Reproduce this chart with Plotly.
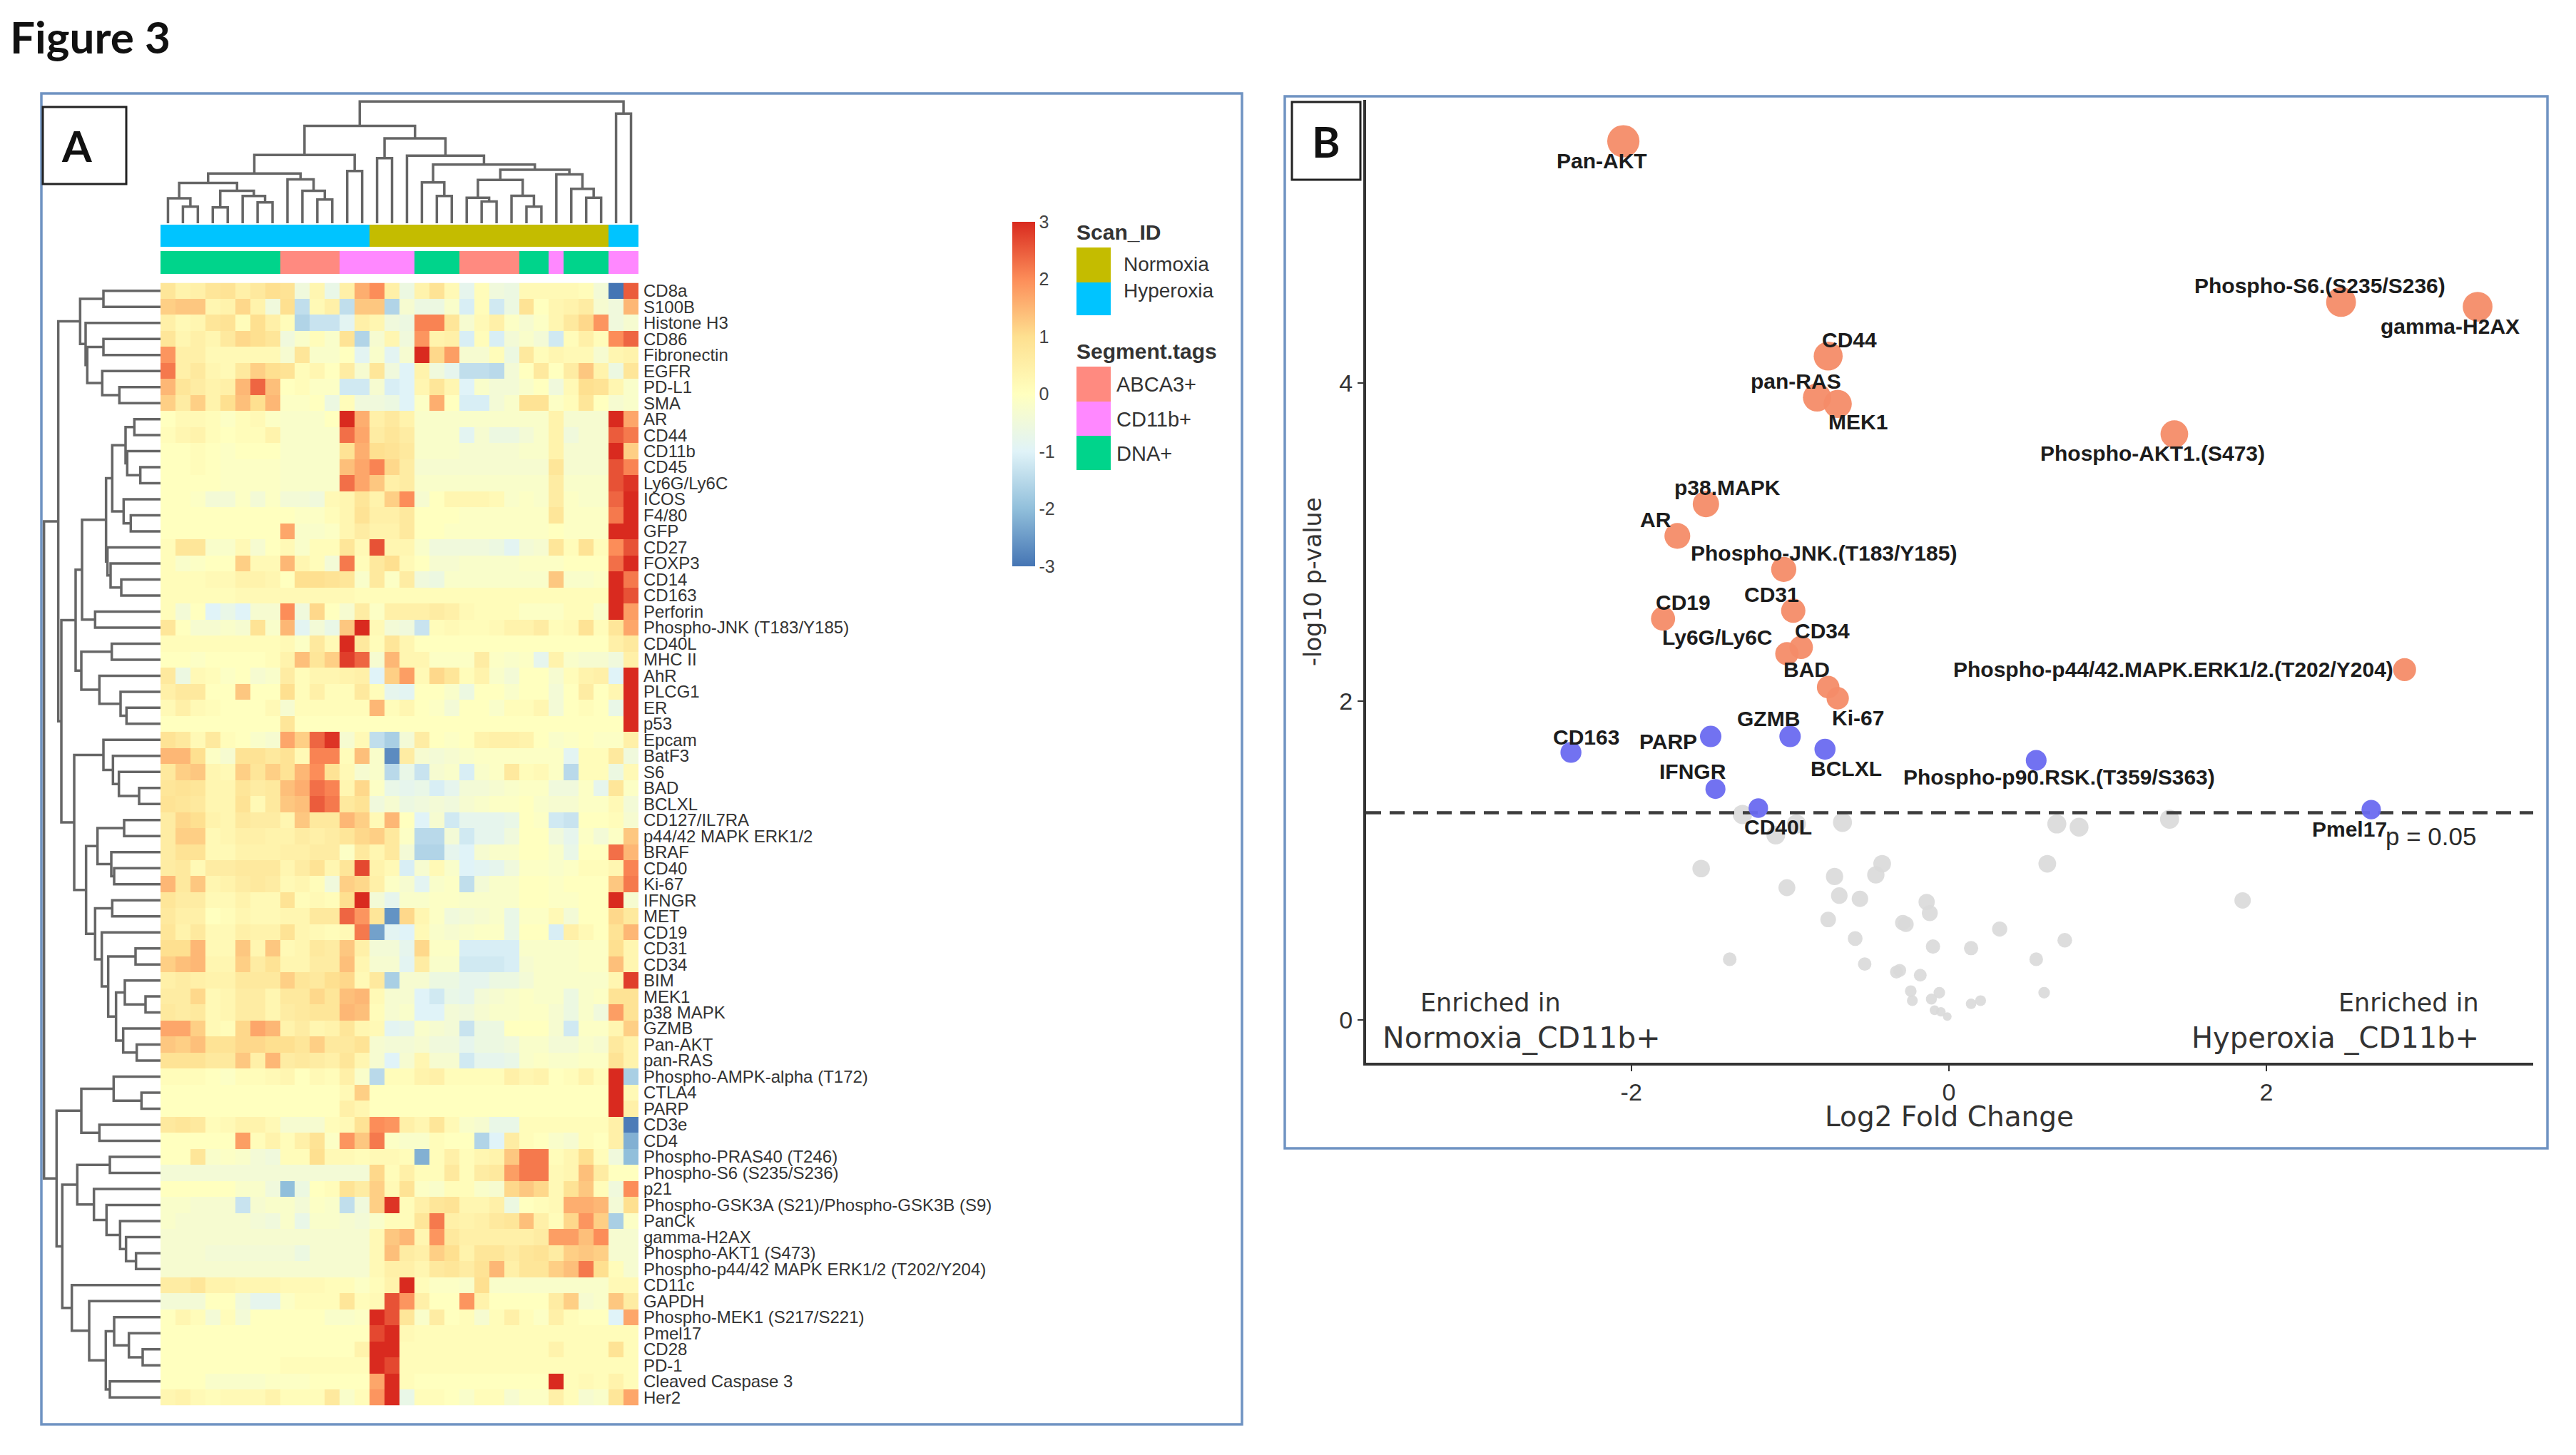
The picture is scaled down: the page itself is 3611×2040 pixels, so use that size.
import math
import plotly.graph_objects as go

W, H = 3611, 2040
FIG_TITLE = "Figure 3"
ROWS = ["CD8a","S100B","Histone H3","CD86","Fibronectin","EGFR","PD-L1","SMA","AR","CD44","CD11b","CD45","Ly6G/Ly6C","ICOS","F4/80","GFP","CD27","FOXP3","CD14","CD163","Perforin","Phospho-JNK (T183/Y185)","CD40L","MHC II","AhR","PLCG1","ER","p53","Epcam","BatF3","S6","BAD","BCLXL","CD127/IL7RA","p44/42 MAPK ERK1/2","BRAF","CD40","Ki-67","IFNGR","MET","CD19","CD31","CD34","BIM","MEK1","p38 MAPK","GZMB","Pan-AKT","pan-RAS","Phospho-AMPK-alpha (T172)","CTLA4","PARP","CD3e","CD4","Phospho-PRAS40 (T246)","Phospho-S6 (S235/S236)","p21","Phospho-GSK3A (S21)/Phospho-GSK3B (S9)","PanCk","gamma-H2AX","Phospho-AKT1 (S473)","Phospho-p44/42 MAPK ERK1/2 (T202/Y204)","CD11c","GAPDH","Phospho-MEK1 (S217/S221)","Pmel17","CD28","PD-1","Cleaved Caspase 3","Her2"]

Z = [
[.8,.4,.5,.8,.9,.5,.7,1, .9,-.5,.3,-.7,.5,1.6,2,.5, -.6,.4,.9,.2,-.8,.1,-.5,-.6, .2,.2,.2,.2,.1,-.4,-3,2.5],
[1.2,1.3,1.3,.3,.4,1.1,.4,-.5, 1,-1.4,.2,.5,-1.4,1.3,1.3,-1.6, -.3,-.6,-.6,-.2,-1.1,.1,-1.2,-.6, .9,0,.3,.4,.6,-.3,-.5,1.5],
[.5,.2,.3,.8,.9,.1,1,.5, .1,-1.6,-1.3,-1.3,-.9,.5,.3,-.5, -.6,2.1,2.1,.8,-.3,.2,.5,-.1, -.3,-.1,.3,.7,1.1,1.9,-.5,-.3],
[.8,.3,.5,.3,.7,1.1,1,.8, -.5,-.2,.1,-.2,.9,-1.6,-.3,.3, -.5,1.9,.4,.5,-1.1,.1,-1.1,-.4, -.2,-.4,-1.2,.1,.5,.1,2,2.4],
[1.9,.5,.5,.2,.2,.2,.2,.2, -.3,.8,-.2,-.2,0,-.9,-.2,-.9, -.3,3,1.1,1.8,-.3,-.3,.1,-.6, .7,.1,.3,.2,.2,-.3,.3,.4],
[2.2,.5,.7,.3,.2,.7,1.2,1, .9,.1,.3,0,.6,-.3,.8,-.5, -1,.4,-.5,-.8,-1.4,-1.4,-1.5,-.4, 0,.7,0,.6,1.3,.4,-.6,.8],
[1.5,.8,.6,.4,.5,1.5,2.4,1.4, 0,.1,-.1,-.1,-1.2,-1.2,-.3,-1.1, -1,.3,.8,.3,-1,-.2,-.4,-.4, -.2,0,-.5,.2,1,.9,.3,-.2],
[1.2,.6,1.2,.4,1,1.4,1,1.5, -.1,-.1,0,-.6,.1,-.5,-.5,-.6, -1,-.1,1.6,0,-1.1,-1.1,-.4,-.2, .9,.9,-.1,.1,.8,0,-.3,-.2],
[0,.2,.2,.1,-.1,.1,.2,-.1, -.2,-.2,-.2,0,3,1.6,.5,.7, .4,-.2,-.2,-.2,-.2,-.2,-.2,-.2, -.2,-.2,.4,-.3,-.3,-.3,3,1.7],
[.1,.3,.4,.1,0,.1,.1,.4, -.2,-.2,-.2,-.2,2.3,1.7,.6,.8, .6,-.2,-.2,-.2,-.9,-.3,-.6,-.6, -.4,-.2,.4,-.5,-.3,-.3,2.5,2.2],
[0,0,.1,0,-.1,0,0,0, -.2,-.2,-.2,-.2,.9,1.6,1,.9, .7,-.2,-.2,-.2,-.3,-.3,-.3,-.3, -.2,-.2,.4,-.3,-.3,-.3,3,1.2],
[0,0,.1,0,-.1,-.1,-.1,-.1, -.2,-.2,-.2,-.2,1.4,1.7,2.1,1.1, .6,-.3,-.3,-.3,-.3,-.3,-.3,-.3, -.3,-.3,.8,-.3,-.3,-.3,2.6,2.1],
[0,0,0,0,-.1,-.1,-.1,-.1, -.2,-.2,-.2,-.2,2.3,1.7,1.3,.5, .6,-.2,-.2,-.2,-.2,-.2,-.2,-.2, -.2,-.2,.6,-.2,-.2,-.2,2.6,2.9],
[0,0,-.1,-.4,-.4,-.1,-.4,-.1, -.4,-.4,-.5,.2,.3,.8,.4,1.2, 2,-.3,0,.3,.3,.3,.2,-.2, -.1,-.2,.6,-.1,-.2,-.2,2.4,3],
[0,0,0,0,0,0,0,0, 0,-.1,-.1,.1,.3,.9,.5,.5, .7,0,0,0,-.1,-.1,-.1,-.1, -.1,-.1,.8,-.1,-.1,-.1,2.2,3],
[0,0,0,0,0,0,0,0, 1.7,-.2,-.2,-.1,.3,.6,.4,.4, .7,0,0,-.1,-.1,-.1,-.1,-.1, -.1,-.1,0,-.1,-.1,-.1,3,3],
[.1,.8,.8,-.2,-.2,.2,-.3,0, .2,-.2,.1,.1,.8,.2,2.6,.3, .3,-.2,-.5,-.5,-.5,-.5,-.6,-.9, -.4,-.3,.8,.1,.9,.1,2,2.6],
[.1,-.2,-.1,0,0,1.2,.2,.2, 1.5,.3,.1,-.4,2.2,.1,.7,1, .2,0,-.3,-.3,-.2,-.2,-.2,-.2, -.1,-.1,-.1,0,0,0,2.3,3],
[.1,.1,.1,.2,.2,.4,.4,.3, 0,1,1,.9,.8,-.2,.7,-.1, .6,-.5,-.6,-.2,-.2,-.2,-.2,-.2, -.2,-.2,1.3,-.2,-.2,-.1,3,2.2],
[.1,.1,.1,.1,.1,.2,.2,.2, .2,.2,.2,.2,.2,.1,.1,.1, .1,.1,.1,.1,.1,.1,.1,.1, .1,.1,.1,.1,.1,.1,3,2.6],
[.1,-.4,0,-1,-.7,-1,-.3,-.3, 2,-.5,1.1,0,-.3,.6,-.1,.5, .5,.5,.6,.5,.2,.1,.1,.1, -.1,-.1,-.1,.1,.1,-.2,3,1.8],
[.8,0,-.3,-.3,-.2,-.3,.9,-.2, 1.5,-.9,-.4,-.7,1.3,3,.2,-.4, -.5,-1.3,.1,.2,.1,.1,.2,.4, .4,.6,.1,.2,.9,.1,.8,1.7],
[.1,.1,.1,.1,.1,.1,.1,.1, .2,-.1,.7,.2,3,.7,.1,.8, .3,0,0,0,0,0,0,0, 0,0,0,0,0,0,.5,.7],
[0,0,-.1,0,0,0,0,.1, .4,1.4,.8,1.2,2.8,2.4,-.3,1.5, .3,.3,-.1,-.1,-.1,.6,-.1,-.2, -.1,-.8,.4,-.2,-.3,-.3,-.5,.5],
[.7,-.6,.2,.1,-.1,0,-.3,-.2, .6,.1,.3,.3,.4,.5,-1,1.2, 1.8,.2,1.1,.8,.1,.4,-.2,-.4, 0,0,-.3,.1,.4,.5,-1,3],
[.5,.7,.7,0,0,1.3,0,0, 1,.1,.5,.1,.1,.7,.1,-.8, -.9,0,0,-.2,-.6,0,0,-.2, 0,0,-.4,0,.6,0,.3,3],
[.2,.5,.2,.1,0,0,0,.2, -.3,.1,.1,.1,.1,.1,1.5,.1, .3,0,-.1,-.4,0,0,-.2,.1, .1,.3,-.4,0,.1,0,-.7,3],
[0,0,0,0,0,0,0,0, .8,0,0,0,0,0,0,0, 0,0,0,0,0,0,0,0, 0,0,0,0,0,0,0,3],
[.9,.7,.2,.7,.1,0,-.2,-.3, 1.7,1.2,2.4,2.9,-.3,.2,-1.4,-1.7, -.4,.6,0,-.1,0,.4,.5,.5, .4,0,-.2,-.1,0,-.1,-.1,.5],
[1.5,1.5,1,-.1,-.3,.9,.9,.7, .9,.2,2.1,2.1,.1,1.4,-.2,-2.7, .6,-.3,-.4,-.3,-.2,-.1,-.1,-.1, -.1,-.1,-.1,-.9,.1,.1,.7,-.5],
[.7,1.2,1.3,.3,.2,1.2,.8,1.2, .9,1.5,2,.9,.2,-.3,-.2,-1.5, -.7,-1.3,-.3,-.2,-1.1,-.2,-.1,.7, .1,.2,-.1,-1.5,.1,.1,-.6,.2],
[.8,.9,.8,.3,.3,.8,.6,.7, 1.4,1.6,2.3,2.1,.3,1.1,-.1,-.7, -.8,-.7,-1.1,-.8,-.4,-.4,-.3,-.2, -.1,-.1,-.5,-.5,-.1,-.8,.8,-.1],
[.9,.8,.7,.3,.3,.9,.2,.7, 1.3,1.4,2.5,2.2,.7,.9,-.5,-.3, -.6,-.5,-.4,-.5,-.3,-.2,-.1,-.1, 0,-.2,-.3,-.3,-.1,-.1,.2,-.4],
[.6,1.1,1,.4,.3,.7,.6,.6, .3,1.3,.7,.7,1.5,1.2,.2,1.5, 0,-1,-.3,-1.2,-.8,-.8,-.8,-.7, 0,-.1,-1.2,-1.3,0,0,.1,-.3],
[.6,1.2,1.2,.2,.3,.5,.5,.4, .4,.6,.5,.6,.8,1.1,1.2,.7, -.1,-1.5,-1.5,-.4,-1.2,-.8,-.8,-.5, 0,0,-.5,-.8,-.1,-.4,-.1,1.3],
[.6,.9,.9,.2,.2,.4,.4,.4, .5,.5,.6,.6,-.1,.7,.3,.7, -.4,-1.6,-1.6,-.8,-1,-.3,-.2,-.2, 0,0,-.2,-.7,0,0,2.3,1.5],
[.6,.7,.2,.6,.6,.7,.7,.7, .3,.6,.9,.3,.8,2.7,.4,.2, -1.1,-.3,.2,-.2,-1,-.9,-.8,-.5, -.1,-.1,-.2,-.1,.1,.1,.3,2.1],
[1.5,.7,1.3,.3,.4,.6,.7,.6, .2,.3,.1,-.5,1.2,1.1,.5,-.1, -.3,-.9,-.2,-.1,-1.4,-.4,-.2,-.2, 0,0,-.1,0,0,0,1.3,2.2],
[.8,.6,.6,.2,.2,.4,.2,.2, .9,.1,.2,.1,1,3,-.4,-.8, -.2,-.2,-.1,-.1,-.2,-.2,-.2,-.2, 0,0,-.1,-.1,0,0,3,-.3],
[.7,.5,.5,0,.1,.3,.2,.2, .3,.3,.7,.7,2.4,1.9,.8,-2.6, 1.1,.3,-.1,-.5,-.4,-.3,-.2,-.7, -.1,-.1,.2,-.4,0,0,1.1,.7],
[.8,.4,.7,.2,.2,.5,.4,.4, .9,.3,.2,.1,.2,2.2,-2.4,-.9, -1,.2,-.2,-.3,-.2,-.1,-.1,-.7, 0,0,-1.1,.5,.2,0,.9,1.5],
[1,1,1.5,.2,.2,1.3,.3,1.3, .2,.3,.7,.6,1.3,.5,-.4,-.4, -.8,1.1,-.1,-.1,-1.1,-1.1,-1.1,-1.1, -.2,-.2,-.2,-.2,-.1,-.1,1,.3],
[1.2,1.4,1.5,.3,.3,1.2,.6,.9, .3,.3,.6,.6,1.4,.3,-.3,-.3, -.9,.6,-.2,-.2,-1.2,-1.2,-1.2,-1.1, -.3,-.2,-.2,-.2,-.1,-.1,1.4,.3],
[.5,.6,.5,.4,.4,.7,.7,.7, 1.2,.8,.7,1,1.1,.2,.7,-1.7, -.3,-.3,-.6,-.6,-.8,-.8,-.6,-.6, -.4,-.2,-.2,-.2,-.2,-.2,.3,2.8],
[.6,.6,1.1,.2,.3,.6,.6,.3, .7,.7,1.1,.8,1.4,1.5,.2,-.3, -.3,-1,-1.2,-.7,-.8,-.4,-.3,-.2, -.1,-.2,-.2,-.6,-.2,-.1,.9,.9],
[.7,.6,.7,.2,.3,.6,.6,.3, .6,.7,.8,.8,1.5,1.4,.1,-.3, -.2,-1,-1,-.4,-.5,-.3,-.2,-.2, -.1,-.1,-.3,-.6,-.2,-.5,1.8,.9],
[1.7,1.7,1.2,.2,.1,1.1,1.7,1.5, .4,.6,.3,.4,.8,.3,.2,-.9, -.8,-.2,-.3,-.4,-1.3,-.6,-.6,0, 0,0,-.3,-1.2,-.1,-.1,.3,1.2],
[1.3,1.2,1.4,.9,.9,1.1,1.1,1, 1,.8,1.2,.7,.7,.9,-.3,-.4, -.4,-.3,-.5,-.5,-.8,-.6,-.6,-.5, -.2,-.2,-.4,-.4,-.2,-.3,.7,.4],
[.9,.9,.9,.7,.7,1.3,.5,1.5, .6,.7,.6,.5,.8,.3,-.3,-1, -.3,.3,-.3,-.3,-1.2,-.8,-.8,-.7, -.2,-.1,-.2,-.2,-.1,-.1,.9,.4],
[.1,.1,.1,0,-.1,.1,.1,.2, .3,0,.2,.1,.5,-.2,-1.5,.1, .1,.4,.5,.1,.1,.1,.1,.5, .3,.4,0,.1,.4,.1,3,-1.7],
[0,0,0,0,0,0,0,0, 0,0,0,0,.2,1.2,0,0, 0,0,0,0,0,0,0,0, 0,0,0,0,0,0,3,.2],
[0,0,0,0,0,0,0,0, 0,0,0,0,.5,.3,0,0, 0,0,0,0,0,0,0,0, 0,0,0,0,0,0,3,.5],
[.7,.8,.7,.1,.2,.4,.4,.2, -.3,-.3,-.3,.1,.2,.9,2,1.9, .5,.3,.8,.2,-.2,-.3,-.7,-.7, .1,.1,.1,.1,.1,.1,.5,-2.9],
[0,0,0,0,0,1.8,.1,.4, .1,.5,.9,-.1,1.9,1.3,2.2,-.1, -.2,-.2,.1,0,0,-1.6,-1,.6, .1,0,-.2,-.3,.1,0,.5,-2.2],
[0,0,.8,-.2,-.1,-.2,-.4,-.5, .1,.1,1,.2,.2,.1,.2,.2, .1,-2.2,.1,.5,.1,.3,.4,1.3, 2.2,2.2,.1,.3,1,.1,-.5,-2],
[-.4,-.4,-.4,-.4,-.4,-.4,-.4,-.4, -.4,-.4,-.4,-.4,-.4,-.4,1.1,.1, .5,.1,.1,.7,.1,.6,.7,1.8, 2.2,2.2,.2,.3,1.4,.6,0,0],
[0,0,0,0,0,-.2,-.2,-.5, -2,-.6,0,.1,.9,.6,1.2,.2, .9,-.1,-.2,.1,.1,-.2,-.3,1.1, 1.3,1.1,.2,.9,1.3,.1,-.5,2],
[-.2,-.2,-.3,-.3,-.3,-1.3,-.3,-.2, -.2,-.4,-.1,-.2,-1.4,-.5,1.2,2.9, .1,.5,.8,.9,.3,.3,.5,-.6, 0,.1,.2,1.6,1.6,1.5,-.4,1],
[-.2,-.3,-.3,-.3,-.3,-.3,-.4,-.5, -.2,-.7,-.2,-.2,-.3,-.4,-.2,.1, .1,.8,2.2,.5,.4,.5,.7,.8, 1.4,.5,.1,1.1,1.9,1.2,-1.7,-.1],
[-.3,-.3,-.3,-.3,-.3,-.3,-.3,-.3, -.3,-.3,-.3,-.3,-.3,-.3,.2,1.3, 1.5,.3,1.9,.7,.5,.5,.5,.5, .5,.6,1.8,1.8,1.4,2,-.3,-.3],
[-.3,-.3,-.3,-.4,-.4,-.4,-.4,-.4, -.4,-.6,-.3,-.3,-.3,-.3,.2,1.4, .6,.5,1.2,1,.4,.8,.8,.6, .8,.9,.6,1.2,1.3,1.2,-.3,-.3],
[-.3,-.3,-.3,-.3,-.3,-.3,-.3,-.3, -.3,-.3,-.3,-.3,-.3,-.3,.2,.5, .5,.3,.7,.8,.6,.9,1.5,.5, .8,.8,1.2,1.4,2.2,1,.1,-.3],
[.6,.6,.8,.4,.4,.3,.3,.3, .2,.2,.2,.1,.1,-.1,.1,.4, 3,.1,-.1,-.1,-.2,1,-.2,-.2, -.2,-.2,-.2,-.2,-.2,-.2,.2,.2],
[-.4,-.4,-.4,0,0,-.5,-.8,-.8, -.1,.1,.1,.1,.8,.1,.2,2.6, 1.9,.5,0,0,1.9,.4,0,0, 0,0,.6,1.2,-.3,-.2,1.3,.6],
[0,.3,.1,-.4,.1,-.4,0,0, 0,0,0,-.2,-.2,-.1,3,2.6, .8,-.2,.6,0,.1,-.3,.1,.5, .1,-.1,.5,.1,0,0,-1,1.7],
[0,0,0,0,0,0,0,0, 0,0,0,0,0,0,2.7,3, .2,.1,.1,.1,.1,.1,.1,.1, .1,.1,.1,.1,.1,.1,.1,.1],
[0,0,0,0,0,0,0,0, 0,0,0,0,0,.4,3,3, .1,.1,.1,.1,.1,.1,.1,.1, .1,.1,.4,.1,.1,.1,.9,.1],
[0,0,0,0,0,0,0,0, .1,.1,.1,.1,.1,.1,3,2.7, .1,.1,.1,.1,.1,.1,.1,.1, .1,.1,.1,.1,.1,.1,.1,.1],
[0,0,0,-.2,-.2,-.2,-.2,-.1, -.1,-.1,0,0,0,0,1.7,3, .1,0,0,0,0,0,0,0, 0,0,3,.1,.2,.1,.4,.1],
[.3,.4,.2,.1,.2,.2,.2,.4, .1,.1,.1,.7,-.2,.1,1.9,3, -.7,.1,.1,0,-.2,.1,.1,-.3, -.1,-.1,.5,.1,-.3,-.2,.8,1.7],
]
bad = [i for i, r in enumerate(Z) if len(r) != 32]
assert not bad and len(Z) == len(ROWS), (bad, len(Z), len(ROWS))

SCAN = [1]*14 + [0]*16 + [1]*2
SEGMENT = [2]*8 + [0]*4 + [1]*5 + [2]*3 + [0]*4 + [2]*2 + [1]*1 + [2]*3 + [1]*2
SCAN_NAMES = ["Normoxia", "Hyperoxia"]
SCAN_COLORS = ["#c4bc00", "#00c4ff"]
SEG_NAMES = ["ABCA3+", "CD11b+", "DNA+"]
SEG_COLORS = ["#ff8a80", "#ff88ff", "#00d48b"]
CB_TICKS = [3, 2, 1, 0, -1, -2, -3]
CB_TICK_TEXT = ["3", "2", "1", "0", "-1", "-2", "-3"]
X_TICKS = [-2, 0, 2]
X_TICK_TEXT = ["-2", "0", "2"]
Y_TICKS = [0, 2, 4]

# dendrograms: (left, right, height), leaves are column / row indices
_c_a = ((0, (1, 2, 65), 98), ((3, 4, 62), (5, (6, 7, 82), 107), 127), 158)
_c_b = (8, (9, (10, 11, 93), 127), 172)
_c_c = ((_c_a, _c_b, 195), (12, 13, 205), 268)
_c_d = (17, (18, 19, 107), 160)
_c_e = ((20, (21, 22, 85), 100), (23, (24, 25, 65), 108), 170)
_c_f = (26, (27, (28, 29, 100), 135), 192)
_c_g = (16, (_c_d, (_c_e, _c_f, 210), 230), 265)
COL_TREE = ((_c_c, ((14, 15, 255), _c_g, 333), 382), (30, 31, 430), 478)

_g1 = ((0, 1, 240), (2, ((3, 4, 240), (5, (6, 7, 173), 245), 308), 315), 338)
_n14 = (((8, 9, 110), (10, (11, 12, 85), 140), 147), (13, (14, 15, 125), 155), 203)
_n17 = (16, (17, (18, 19, 165), 210), 223)
_n20 = ((_n14, _n17, 229), (20, 21, 275), 330)
_n25 = ((22, 23, 205), (24, (25, (26, 27, 143), 168), 257), 333)
_n26 = (_n20, _n25, 357)
_m4 = (28, (29, (30, (31, 32, 90), 175), 200), 240)
_zz = ((33, 34, 153), (35, (36, 37, 195), 207), 265)
_v6 = ((43, (44, 45, 63), 150), (46, (47, 48, 100), 157), 187)
_ww = ((38, 39, 203), (40, ((41, 42, 105), _v6, 220), 247), 275)
_xx = (_m4, (_zz, _ww, 313), 363)
_top = (_g1, (_n26, _xx, 417), 430)
_b4 = ((49, (50, 51, 80), 197), (52, 53, 257), 333)
_c7 = ((54, 55, 213), (56, (57, (58, (59, (60, 61, 103), 145), 170), 227), 280), 350)
_d7 = (62, (63, ((64, (65, (66, 67, 75), 133), 195), (68, 69, 213), 230), 300), 373)
ROW_TREE = (_top, (_b4, (_c7, _d7, 413), 437), 490)

# volcano
ORANGE = {"Pan-AKT":(-2.05,5.52),"Phospho-S6.(S235/S236)":(2.47,4.51),"gamma-H2AX":(3.33,4.48),"CD44":(-.76,4.17),"pan-RAS":(-.83,3.91),"MEK1":(-.70,3.87),"Phospho-AKT1.(S473)":(1.42,3.68),"p38.MAPK":(-1.53,3.24),"AR":(-1.71,3.04),"Phospho-JNK.(T183/Y185)":(-1.04,2.83),"CD31":(-.98,2.57),"CD19":(-1.80,2.52),"CD34":(-.93,2.34),"Ly6G/Ly6C":(-1.02,2.30),"Phospho-p44/42.MAPK.ERK1/2.(T202/Y204)":(2.87,2.20),"BAD":(-.76,2.09),"Ki-67":(-.70,2.02)}
BLUE = {"CD163":(-2.38,1.68),"PARP":(-1.50,1.78),"GZMB":(-1.0,1.78),"BCLXL":(-.78,1.70),"Phospho-p90.RSK.(T359/S363)":(.55,1.63),"IFNGR":(-1.47,1.45),"CD40L":(-1.2,1.33),"Pmel17":(2.66,1.32)}
GRAY_X = [-1.30,-.96,-.67,-1.09,.68,.82,1.39,-1.56,-.42,.62,-.72,-.46,-1.02,-.69,-.56,1.85,-.14,-.12,-.76,-.29,-.27,.32,-.59,.73,-.10,.14,-1.38,.55,-.53,-.31,-.33,-.18,-.24,-.06,.60,.20,-.11,-.23,.14,-.09,-.05,-.01]
GRAY_Y = [1.29,1.23,1.24,1.16,1.23,1.21,1.26,.95,.98,.98,.90,.91,.83,.78,.76,.75,.74,.67,.63,.61,.60,.57,.51,.50,.46,.45,.38,.38,.35,.31,.30,.28,.18,.17,.17,.12,.13,.12,.10,.06,.05,.02]
LABEL_SHIFT = {"Pan-AKT":(-30,-27),"Phospho-S6.(S235/S236)":(-30,23),"gamma-H2AX":(-39,-27),"CD44":(30,23),"pan-RAS":(-30,23),"MEK1":(28,-25),"Phospho-AKT1.(S473)":(-30,-27),"p38.MAPK":(30,23),"AR":(-30,23),"Phospho-JNK.(T183/Y185)":(56,23),"CD31":(-30,23),"CD19":(28,23),"CD34":(30,23),"Ly6G/Ly6C":(-97,23),"Phospho-p44/42.MAPK.ERK1/2.(T202/Y204)":(-324,0),"BAD":(-30,25),"Ki-67":(28,-27),"CD163":(21,21),"PARP":(-60,-7),"GZMB":(-30,25),"BCLXL":(30,-27),"Phospho-p90.RSK.(T359/S363)":(32,-23),"IFNGR":(-32,25),"CD40L":(28,-27),"Pmel17":(-30,-27)}
THRESH = 1.301
X_RANGE = [-3.67, 3.68]
Y_RANGE = [-0.27, 5.78]

SANS = "Liberation Sans"
WIDE = "DejaVu Sans"
HEAD = "Lato"
DARK = "#2b2b2b"
BORDER = "#6f93c2"
TREE = "#666666"
COLORSCALE = [[0,"#4575b4"],[1/6,"#91bfdb"],[2/6,"#e0f3f8"],[.5,"#ffffbf"],[4/6,"#fee090"],[5/6,"#fc8d59"],[1,"#d92a1f"]]

def fx(p): return p / W
def fy(p): return 1 - p / H
def xdom(a, b): return [fx(a), fx(b)]
def ydom(top, bot): return [fy(bot), fy(top)]

def segs(node, horizontal):
    a, b = [], []
    def walk(n):
        if isinstance(n, int):
            return float(n), 0.0
        lp, lh = walk(n[0]); rp, rh = walk(n[1]); h = n[2]
        a.extend([lp, lp, rp, rp, None]); b.extend([lh, h, h, rh, None])
        return (lp + rp) / 2, h
    walk(node)
    return (b, a) if horizontal else (a, b)

HM_L, HM_R, HM_T, HM_B = 225, 895, 396.5, 1970.5
fig = go.Figure()
fig.add_trace(go.Heatmap(z=Z, y=ROWS, x=list(range(32)), colorscale=COLORSCALE, zmin=-3, zmax=3, xaxis="x", yaxis="y", hoverinfo="skip",
    colorbar=dict(lenmode="pixels", len=483, thickness=32, thicknessmode="pixels", x=fx(1419), xanchor="left", y=fy(552.5), yanchor="middle",
                  outlinewidth=0, xpad=0, ypad=0, tickmode="array", tickvals=CB_TICKS, ticktext=CB_TICK_TEXT, ticks="", tickfont=dict(family=SANS, size=25, color="#444"))))
fig.add_trace(go.Heatmap(z=[SCAN], x=list(range(32)), colorscale=[[0,SCAN_COLORS[0]],[1,SCAN_COLORS[1]]], zmin=0, zmax=1, showscale=False, xaxis="x2", yaxis="y2", hoverinfo="skip"))
seg_scale = [[0,SEG_COLORS[0]],[.5,SEG_COLORS[1]],[1,SEG_COLORS[2]]]
fig.add_trace(go.Heatmap(z=[SEGMENT], x=list(range(32)), colorscale=seg_scale, zmin=0, zmax=2, showscale=False, xaxis="x3", yaxis="y3", hoverinfo="skip"))
cx, cy = segs(COL_TREE, False)
fig.add_trace(go.Scatter(x=cx, y=cy, mode="lines", line=dict(color=TREE, width=3.5), xaxis="x4", yaxis="y4", hoverinfo="skip", showlegend=False))
rx, ry = segs(ROW_TREE, True)
fig.add_trace(go.Scatter(x=rx, y=ry, mode="lines", line=dict(color=TREE, width=3.5), xaxis="x5", yaxis="y5", hoverinfo="skip", showlegend=False))

def msize(y): return 10 + 15 * math.sqrt(y)
fig.add_trace(go.Scatter(x=GRAY_X, y=GRAY_Y, mode="markers", marker=dict(color="#d9d9d9", size=[msize(v) for v in GRAY_Y], opacity=.9, line=dict(width=0)), xaxis="x6", yaxis="y6", hoverinfo="skip", showlegend=False))
fig.add_trace(go.Scatter(x=X_RANGE, y=[THRESH, THRESH], mode="lines", line=dict(color="#3d3d3d", width=4.5, dash="21px,12px"), xaxis="x6", yaxis="y6", hoverinfo="skip", showlegend=False))
for group, colr in ((ORANGE, "#f48c68"), (BLUE, "#6a6af0")):
    fig.add_trace(go.Scatter(x=[v[0] for v in group.values()], y=[v[1] for v in group.values()], mode="markers",
        marker=dict(color=colr, size=[msize(v[1]) for v in group.values()], opacity=.95, line=dict(width=0)), xaxis="x6", yaxis="y6", hoverinfo="skip", showlegend=False))

ann = []
def text(x, y, t, size, family=SANS, color=DARK, anchor="center", bold=False):
    ann.append(dict(x=fx(x), y=fy(y), xref="paper", yref="paper", text=f"<b>{t}</b>" if bold else t, showarrow=False,
                    xanchor=anchor, yanchor="middle", font=dict(family=family, size=size, color=color)))

for group in (ORANGE, BLUE):
    for name, (vx, vy) in group.items():
        sx, sy = LABEL_SHIFT[name]
        ann.append(dict(x=vx, y=vy, xref="x6", yref="y6", text=f"<b>{name}</b>", showarrow=False, xshift=sx, yshift=sy,
                        font=dict(family=SANS, size=30, color="#1c1c1c")))

text(12, 51, FIG_TITLE, 62, HEAD, "#111111", "left", True)
text(107, 204, "A", 60, HEAD, "#111111", "center", True)
text(1859, 198, "B", 60, HEAD, "#111111", "center", True)
text(1507, 325, "Scan_ID", 30, SANS, "#333", "left", True)
text(1507, 492, "Segment.tags", 30, SANS, "#333", "left", True)
text(1573, 370, SCAN_NAMES[0], 28, SANS, "#333", "left")
text(1573, 408, SCAN_NAMES[1], 28, SANS, "#333", "left")
for yy, nm in zip((539, 588, 636), SEG_NAMES):
    text(1563, yy, nm, 29, SANS, "#333", "left")
text(3407, 1172, "p = 0.05", 35)
text(1989, 1406, "Enriched in", 35, WIDE, "#333", "left")
text(1936, 1455, "Normoxia_CD11b+", 41, WIDE, "#333", "left")
text(3477, 1406, "Enriched in", 35, WIDE, "#333", "right")
text(3477, 1455, "Hyperoxia _CD11b+", 40, WIDE, "#333", "right")
text(2732, 1565, "Log2 Fold Change", 39, WIDE, "#333")
ann.append(dict(x=fx(1840), y=fy(816), xref="paper", yref="paper", text="-log10 p-value", showarrow=False, textangle=-90,
                font=dict(family=WIDE, size=33, color="#333")))

shapes = []
def rect(x0, y0, x1, y1, fill=None, line=None, lw=0, layer="below"):
    shapes.append(dict(type="rect", xref="paper", yref="paper", x0=fx(x0), x1=fx(x1), y0=fy(y0), y1=fy(y1),
                       fillcolor=fill or "rgba(0,0,0,0)", line=dict(color=line or "rgba(0,0,0,0)", width=lw), layer=layer))
rect(58, 131, 1741, 1997, line=BORDER, lw=3.5)
rect(1801, 135, 3571, 1610, line=BORDER, lw=3.5)
rect(60, 150, 177, 258, fill="white", line="#222", lw=3)
rect(1811, 143, 1907, 252, fill="white", line="#222", lw=3)
rect(1509, 347, 1557, 396, fill=SCAN_COLORS[0])
rect(1509, 396, 1557, 442, fill=SCAN_COLORS[1])
rect(1509, 514, 1557, 563, fill=SEG_COLORS[0])
rect(1509, 563, 1557, 611, fill=SEG_COLORS[1])
rect(1509, 611, 1557, 659, fill=SEG_COLORS[2])

hidden = dict(visible=False, fixedrange=True)
layout = dict(
    width=W, height=H, margin=dict(l=0, r=0, t=0, b=0), autosize=False,
    paper_bgcolor="white", plot_bgcolor="rgba(0,0,0,0)", showlegend=False,
    annotations=ann, shapes=shapes,
    xaxis=dict(domain=xdom(HM_L, HM_R), range=[-.5, 31.5], **hidden),
    yaxis=dict(domain=ydom(HM_T, HM_B), autorange="reversed", side="right", type="category", showgrid=False, zeroline=False, ticks="",
               showline=False, tickfont=dict(family=SANS, size=24, color="#333"), tickmode="array", tickvals=ROWS, ticktext=ROWS, automargin=False, ticklabelstandoff=6, anchor="x"),
    xaxis2=dict(domain=xdom(HM_L, HM_R), range=[-.5, 31.5], anchor="y2", **hidden),
    yaxis2=dict(domain=ydom(315, 346), anchor="x2", **hidden),
    xaxis3=dict(domain=xdom(HM_L, HM_R), range=[-.5, 31.5], anchor="y3", **hidden),
    yaxis3=dict(domain=ydom(352, 384), anchor="x3", **hidden),
    xaxis4=dict(domain=xdom(HM_L, HM_R), range=[-.5, 31.5], anchor="y4", **hidden),
    yaxis4=dict(domain=ydom(120, 313), range=[0, 540], anchor="x4", **hidden),
    xaxis5=dict(domain=xdom(50, 225), range=[525, 0], anchor="y5", **hidden),
    yaxis5=dict(domain=ydom(HM_T, HM_B), range=[69.5, -.5], anchor="x5", **hidden),
    xaxis6=dict(domain=xdom(1915, 3551), range=X_RANGE, anchor="y6", showgrid=False, zeroline=False, showline=True, linecolor="#333", linewidth=4,
                ticks="outside", ticklen=8, tickwidth=2, tickcolor="#333", tickmode="array", tickvals=X_TICKS, ticktext=X_TICK_TEXT, tickfont=dict(family=SANS, size=34, color="#333")),
    yaxis6=dict(domain=ydom(140, 1490), range=Y_RANGE, anchor="x6", showgrid=False, zeroline=False, showline=True, linecolor="#333", linewidth=4,
                ticks="outside", ticklen=8, tickwidth=2, tickcolor="#333", tickmode="array", tickvals=Y_TICKS, tickfont=dict(family=SANS, size=34, color="#333")),
)
fig.update_layout(**layout)
fig.write_html("out.html", config={"displayModeBar": False},
               post_script="document.body.style.margin='0';document.body.style.overflow='hidden';")
